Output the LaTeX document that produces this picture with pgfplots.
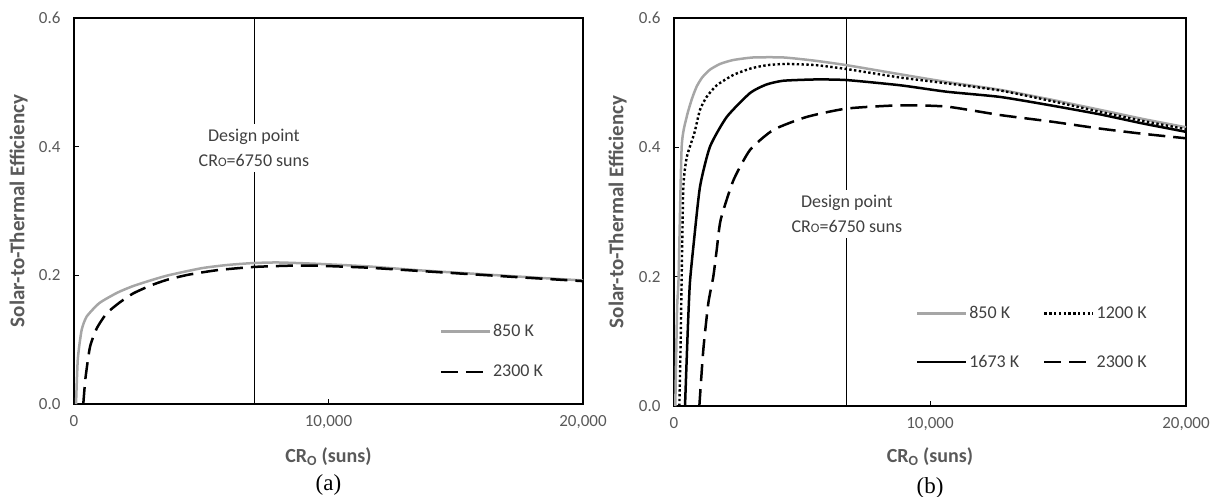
\documentclass[border=0pt]{standalone}
\usepackage{fontspec}
\setmainfont{Carlito}
\newfontfamily\timesfont{Liberation Serif}
\usepackage{pgfplots}
\pgfplotsset{compat=1.18}
\definecolor{tickgray}{HTML}{595959}
\definecolor{txtgray}{HTML}{404040}
\definecolor{linegray}{HTML}{A6A6A6}

\pgfplotsset{
  myaxis/.style={
    scale only axis,
    anchor=south west,
    clip=false,
    xmin=0, xmax=20000, ymin=0, ymax=0.6,
    xtick={0,10000,20000}, ytick={0,0.2,0.4,0.6},
    scaled x ticks=false, scaled y ticks=false,
    /pgf/number format/assume math mode=true,
    xticklabel style={/pgf/number format/1000 sep={,}, font=\fontsize{17}{20}\selectfont, text=tickgray, yshift=-8pt},
    yticklabel style={/pgf/number format/fixed, /pgf/number format/fixed zerofill, /pgf/number format/precision=1, font=\fontsize{17}{20}\selectfont, text=tickgray, xshift=-10pt},
    tick align=inside, tick pos=left, major tick length=5pt,
    tick style={black, line width=0.9pt},
    axis line style={black, line width=1.3pt},
    xlabel={CR\textsubscript{O} (suns)},
    ylabel={Solar-to-Thermal Efficiency},
    xlabel style={font=\bfseries\fontsize{20}{22}\selectfont, text=tickgray, anchor=center},
    ylabel style={font=\bfseries\fontsize{21}{23}\selectfont, text=tickgray, anchor=center},
    legend image code/.code={\draw[##1] (0pt,0pt) -- (49pt,0pt);},
    legend cell align=left,
    legend style={draw=none, fill=none, font=\fontsize{18}{20}\selectfont, text=txtgray,
      nodes={inner sep=2pt}},
  },
  g850/.style={linegray, line width=2.5pt, smooth, tension=0.35},
  d1200/.style={black, line width=2.4pt, dash pattern=on 2.4pt off 2.4pt, smooth, tension=0.35},
  s1673/.style={black, line width=2.5pt, smooth, tension=0.35},
  d2300/.style={black, line width=2.5pt, dash pattern=on 17pt off 8pt, smooth, tension=0.35},
}

\begin{document}
\begin{tikzpicture}
\path[use as bounding box] (0,0) rectangle (1217pt,496pt);

% ---------- (a)
\begin{axis}[myaxis, at={(74pt,92pt)}, width=509pt, height=386pt,
  xlabel style={at={(axis description cs:0.5,-0.137)}},
  ylabel style={at={(axis description cs:-0.109,0.5)}},
  legend style={at={(axis description cs:0.712,0.217)}, anchor=north west, row sep=23pt},
]
\addplot[black, line width=0.8pt, forget plot] coordinates {(7070,0) (7070,0.6)};
\addplot[g850] coordinates {
(80,0) (150,0.07) (300,0.115) (500,0.136) (1000,0.157) (1700,0.173) (2300,0.183)
(3000,0.192) (3700,0.200) (5000,0.211) (6000,0.216) (7000,0.219) (8000,0.220)
(9500,0.218) (11500,0.214) (13500,0.208) (15500,0.203) (17500,0.198) (20000,0.192)};
\addlegendentry{850 K}
\addplot[d2300] coordinates {
(365,0) (450,0.04) (630,0.089) (900,0.118) (1285,0.141) (1800,0.158) (2330,0.172)
(3000,0.184) (3650,0.193) (4500,0.201) (5620,0.208) (7040,0.213) (8500,0.215)
(9500,0.215) (11500,0.212) (13500,0.207) (15500,0.202) (17500,0.197) (20000,0.191)};
\addlegendentry{2300 K}
\node[fill=white, align=center, text=txtgray, inner xsep=2pt, inner ysep=5pt,
  font=\fontsize{18}{25}\selectfont] at (axis cs:7070,0.398)
  {Design point\\CR{\fontsize{13}{13}\selectfont O}=6750 suns};
\node[font=\timesfont\fontsize{23}{26}\selectfont] at (axis description cs:0.5,-0.21) {(a)};
\end{axis}

% ---------- (b)
\begin{axis}[myaxis, at={(674pt,90pt)}, width=512pt, height=388pt,
  xlabel style={at={(axis description cs:0.5,-0.131)}},
  ylabel style={at={(axis description cs:-0.11,0.5)}},
  legend columns=2,
  legend style={at={(axis description cs:0.466,0.267)}, anchor=north west, row sep=31pt,
    /tikz/every even column/.append style={column sep=22pt}},
]
\addplot[black, line width=0.8pt, forget plot] coordinates {(6750,0) (6750,0.6)};
\addplot[g850] coordinates {
(50,0) (120,0.15) (180,0.2) (300,0.401) (495,0.447) (700,0.475) (885,0.494)
(1100,0.508) (1400,0.520) (1800,0.529) (2310,0.535) (3100,0.539) (4270,0.539)
(5500,0.534) (6750,0.527) (8830,0.513) (10660,0.501) (12730,0.489) (14700,0.474)
(16640,0.458) (18300,0.444) (20000,0.431)};
\addlegendentry{850 K}
\addplot[d1200] coordinates {
(210,0) (260,0.1) (300,0.2) (365,0.339) (500,0.385) (795,0.422) (1015,0.458)
(1275,0.478) (1670,0.496) (2320,0.512) (3000,0.522) (3620,0.527) (4400,0.529)
(5570,0.527) (6750,0.521) (8830,0.508) (10650,0.499) (12730,0.488) (14700,0.472)
(16640,0.455) (18300,0.441) (20000,0.428)};
\addlegendentry{1200 K}
\addplot[s1673] coordinates {
(430,0) (540,0.12) (620,0.19) (755,0.246) (1015,0.339) (1405,0.401) (2060,0.447)
(2970,0.484) (3600,0.497) (4270,0.503) (5570,0.505) (6750,0.504) (8830,0.496)
(10650,0.486) (12730,0.478) (14700,0.465) (16640,0.451) (18300,0.437) (20000,0.424)};
\addlegendentry{1673 K}
\addplot[d2300] coordinates {
(990,0) (1145,0.087) (1340,0.159) (1535,0.2) (1667,0.241) (1823,0.288) (2320,0.349)
(2970,0.396) (3880,0.427) (5180,0.447) (6750,0.460) (8830,0.465) (10650,0.463)
(12730,0.450) (14700,0.440) (16640,0.429) (18300,0.421) (20000,0.414)};
\addlegendentry{2300 K}
\node[fill=white, align=center, text=txtgray, inner xsep=2pt, inner ysep=5pt,
  font=\fontsize{18}{25}\selectfont] at (axis cs:6750,0.297)
  {Design point\\CR{\fontsize{13}{13}\selectfont O}=6750 suns};
\node[font=\timesfont\fontsize{23}{26}\selectfont] at (axis description cs:0.5,-0.21) {(b)};
\end{axis}
\end{tikzpicture}
\end{document}
